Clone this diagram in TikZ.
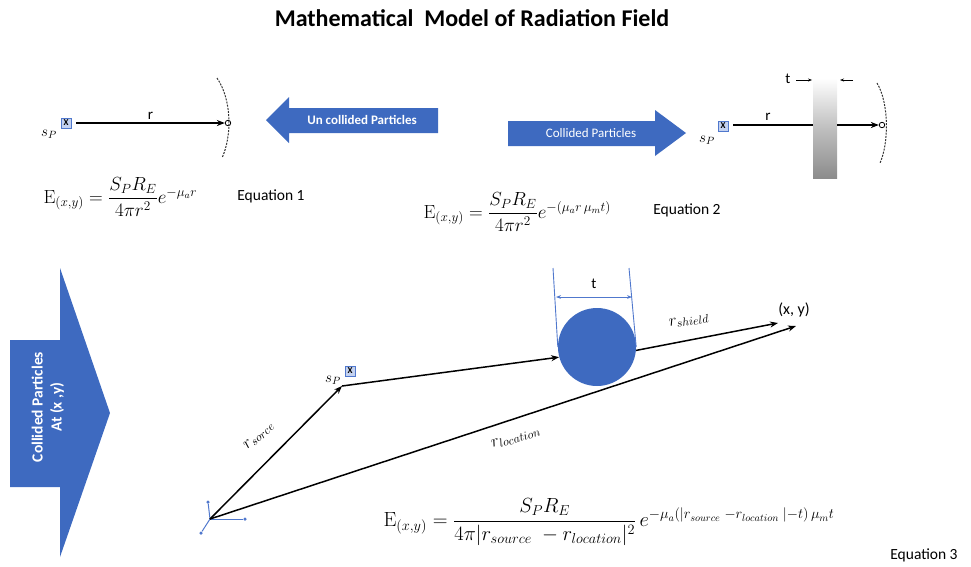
\RequirePackage{fix-cm}
\documentclass[tikz,border=0pt]{standalone}
\usepackage{amsmath}
\usepackage[no-math]{fontspec}
\setmainfont{Carlito}
\usetikzlibrary{arrows.meta,calc}
\definecolor{pblue}{RGB}{62,106,192}
\definecolor{lblue}{RGB}{80,120,205}
\definecolor{xfill}{RGB}{196,210,240}
\tikzset{
  vec/.style={line width=1.5pt,-{Stealth[length=8pt,width=6pt]}},
  plainvec/.style={line width=1.5pt},
  xbox/.style={draw=lblue,fill=xfill,line width=0.6pt,inner sep=0.8pt,minimum size=10pt,font=\fontsize{9}{9}\selectfont\bfseries},
  endcirc/.style={circle,draw=black,fill=white,line width=0.8pt,inner sep=0pt,minimum size=5.5pt},
  sparc/.style={dashed,dash pattern=on 2pt off 1.2pt,line width=1pt,draw=black!80},
  barrow/.style={fill=pblue},
  btext/.style={text=white,font=\fontsize{13}{13}\selectfont},
  eqlab/.style={font=\fontsize{15.5}{15.5}\selectfont},
  eqn/.style={font=\fontsize{19}{19}\selectfont,anchor=west},
  axisl/.style={draw=lblue,line width=1pt},
  dot/.style={circle,fill=lblue,inner sep=0pt,minimum size=3.5pt},
  dim/.style={draw=lblue,line width=0.9pt},
  lbl/.style={font=\fontsize{15}{15}\selectfont},
  vlbl/.style={font=\fontsize{17}{17}\selectfont}
}
\begin{document}
\begin{tikzpicture}[x=1pt,y=-1pt]
\useasboundingbox (0,0) rectangle (971,566);

% title
\node[font=\fontsize{24}{24}\selectfont\bfseries] (title) at (472,18) {Mathematical\ \ Model of Radiation Field};

% ---------- top left: uncollided ----------
\node[xbox] (xb1) at (66,123) {X};
\node[lbl] (sp1) at (49,134) {$s_P$};
\node[endcirc] (c1) at (228,123) {};
\draw[vec] (xb1.east) ++(5,0) coordinate (s1) -- (c1.west) node[midway,above=-1pt,lbl] (r1) {r};
\draw[sparc] (217,78) .. controls (232,100) and (232,136) .. (222,158);

\fill[barrow] (438,108) -- (289,108) -- (289,97) -- (266,120) -- (289,143) -- (289,133) -- (438,133) -- cycle;
\node[btext,font=\fontsize{13}{13}\selectfont\bfseries] (uc) at (362,120) {Un collided Particles};

\node[eqn] (eq1) at (40,197) {$\mathrm{E}_{(x,y)}=\dfrac{S_PR_E}{4\pi r^2}e^{-\mu_a r}$};
\node[eqlab] (eql1) at (271,196) {Equation 1};

% ---------- top right: collided ----------
\fill[barrow] (508,121) -- (655,121) -- (655,110) -- (686,133) -- (655,156) -- (655,146) -- (508,146) -- cycle;
\node[btext] (cp) at (591,133) {Collided Particles};

\node[xbox] (xb2) at (723,126) {X};
\node[lbl] (sp2) at (707,140) {$s_P$};
\shade[top color=white,bottom color=black!45,middle color=black!25] (813,78) rectangle (837,178);
\node[minimum width=24pt,minimum height=100pt,inner sep=0pt] (sh1) at (825,128) {};
\node[endcirc] (c2) at (882,125) {};
\draw[plainvec] (xb2.east) ++(5,-1) coordinate (s2) -- (s2 -| sh1.west);
\draw[vec] (s2 -| sh1.east) -- (c2.west);
\node[lbl] (r2) at (768,117) {r};
\draw[sparc] (877,83) .. controls (889,103) and (889,143) .. (880,163);
\node[lbl] (t1) at (788,79) {t};
\draw[line width=0.8pt,-{Stealth[length=4pt]}] (t1.east) ++(2,1) -- ++(16,0);
\coordinate (ta) at (853,80);
\draw[line width=0.8pt,-{Stealth[length=4pt]}] (ta) -- ++(-13,0);

\node[eqn] (eq2) at (420,212) {$\mathrm{E}_{(x,y)}=\dfrac{S_PR_E}{4\pi r^2}e^{-(\mu_a r\,\mu_m t)}$};
\node[eqlab] (eql2) at (687,210) {Equation 2};

% ---------- bottom ----------
\fill[barrow] (10,340) -- (60,340) -- (60,268) -- (110,413) -- (60,557) -- (60,487) -- (10,487) -- cycle;
\node[btext,rotate=90,align=center,font=\fontsize{15.5}{19}\selectfont\bfseries] (cpa) at (48,407) {Collided Particles\\At (x ,y)};

\coordinate (O) at (210,519);
\node[dot] (ax1) at (245,519) {};
\node[dot] (ax2) at (208,502) {};
\node[dot] (ax3) at (201,533) {};
\draw[axisl] (O) -- (ax1); \draw[axisl] (O) -- (ax2); \draw[axisl] (O) -- (ax3);

\node[xbox] (xb3) at (350,371) {X};
\node[lbl] (sp3) at (333,380) {$s_P$};
\coordinate (P3) at (342,386);
\draw[vec] (O) -- (P3);
\node[vlbl,rotate=42] (rs) at (259,436) {$r_{sorce}$};

\node[circle,fill=pblue,minimum size=78pt,inner sep=0pt] (sh2) at (597,347) {};
\draw[dim] (553,268) -- (sh2.west);
\draw[dim] (629,268) -- (sh2.east);
\draw[dim,{Stealth[length=5pt]}-{Stealth[length=5pt]}] (556,297) -- (632,297);
\node[lbl] (t2) at (594,284) {t};

\draw[vec] (P3) -- (sh2.195);
\node[font=\fontsize{16}{16}\selectfont] (xy) at (794,310) {(x, y)};
\coordinate (E1) at (778,323);
\coordinate (E2) at (796,326);
\draw[vec] (sh2.-5) -- (E1);
\node[vlbl,rotate=9] (rsh) at (689,321) {$r_{shield}$};
\draw[vec] (O) -- (E2);
\node[vlbl,rotate=17] (rl) at (516,438) {$r_{location}$};

\node[eqn,font=\fontsize{20.5}{20.5}\selectfont] (eq3) at (380,522) {$\mathrm{E}_{(x,y)}=\dfrac{S_PR_E}{4\pi|r_{source}\;-r_{location}|^2}\,e^{-\mu_a(|r_{source}\;-r_{location}\;|-t)\,\mu_m t}$};
\node[eqlab] (eql3) at (924,555) {Equation 3};
\end{tikzpicture}
\end{document}
